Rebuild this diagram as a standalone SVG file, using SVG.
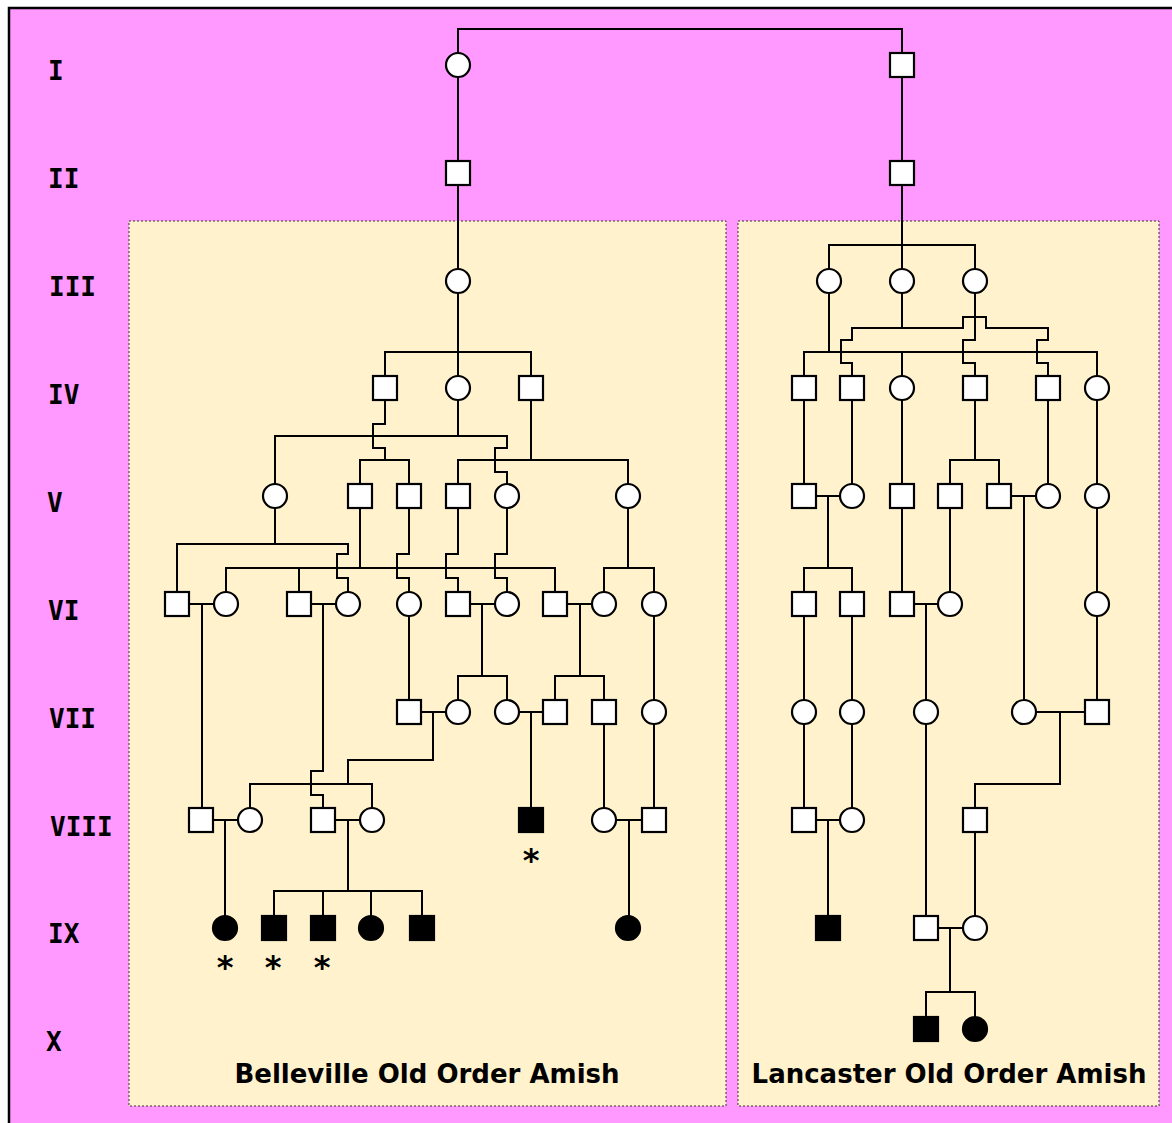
<svg xmlns="http://www.w3.org/2000/svg" width="1172" height="1123" viewBox="0 0 1172 1123">
  <style>
    .ln { fill: none; stroke: #000; stroke-width: 2; stroke-linejoin: miter; }
    .m, .f { fill: #fff; stroke: #000; stroke-width: 2.2; }
    .aff { fill: #000; stroke: #000; stroke-width: 2.2; }
    .gen { font-family: "DejaVu Sans Mono", "Liberation Mono", monospace; font-weight: bold; font-size: 26px; fill: #000; }
    .title { font-family: "DejaVu Sans", "Verdana", sans-serif; font-weight: bold; font-size: 26px; fill: #000; text-anchor: middle; }
    .star { font-family: "DejaVu Sans", sans-serif; font-weight: bold; font-size: 32px; fill: #000; text-anchor: middle; }
    .panel { fill: #FFF2CC; stroke: #333; stroke-width: 1; stroke-dasharray: 2 2; }
  </style>

  <!-- page background -->
  <rect x="0" y="0" width="1172" height="1123" fill="#fff"/>
  <rect x="9" y="8" width="1200" height="1200" fill="#FF99FF" stroke="#000" stroke-width="2.5"/>

  <!-- population panels -->
  <rect class="panel" x="129" y="221" width="597" height="885"/>
  <rect class="panel" x="738" y="221" width="421" height="885"/>

  <!-- generation numerals -->
  <g id="generations">
    <text class="gen" x="48" y="80">I</text>
    <text class="gen" x="48" y="188">II</text>
    <text class="gen" x="49" y="296">III</text>
    <text class="gen" x="48" y="404">IV</text>
    <text class="gen" x="47" y="512">V</text>
    <text class="gen" x="48" y="620">VI</text>
    <text class="gen" x="49" y="728">VII</text>
    <text class="gen" x="50" y="836">VIII</text>
    <text class="gen" x="48" y="943">IX</text>
    <text class="gen" x="46" y="1051">X</text>
  </g>

  <!-- connectors: sibships, marriages and descent lines -->
  <g id="connectors">
    <!-- I - III -->
    <path class="ln" d="M458,53 V29 H902 V53"/>
    <path class="ln" d="M458,77 V161 M902,77 V161"/>
    <path class="ln" d="M458,185 V269 M458,293 V376"/>
    <path class="ln" d="M385,376 V352 H531 V376"/>
    <path class="ln" d="M902,185 V269 M829,269 V245 H975 V269"/>

    <!-- Belleville: IV -> V -->
    <path class="ln" d="M385,400 V424 H373 V448 H385 V460"/>
    <path class="ln" d="M360,484 V460 H409 V484"/>
    <path class="ln" d="M458,400 V436"/>
    <path class="ln" d="M275,484 V436 H507 V448 H495 V472 H507 V484"/>
    <path class="ln" d="M531,400 V460"/>
    <path class="ln" d="M458,484 V460 H628 V484"/>

    <!-- Belleville: V -> VI -->
    <path class="ln" d="M275,508 V544"/>
    <path class="ln" d="M177,592 V544 H348 V554 H337 V578 H348 V592"/>
    <path class="ln" d="M360,508 V568"/>
    <path class="ln" d="M226,592 V568 H555 V592 M299,568 V592"/>
    <path class="ln" d="M409,508 V554 H397 V578 H409 V592"/>
    <path class="ln" d="M458,508 V554 H446 V578 H458 V592"/>
    <path class="ln" d="M507,508 V554 H495 V578 H507 V592"/>
    <path class="ln" d="M628,508 V568 M604,592 V568 H654 V592"/>

    <!-- Belleville: VI -> VII -->
    <path class="ln" d="M189,604 H214 M202,604 V808"/>
    <path class="ln" d="M311,604 H336 M323,604 V771 H311 V795 H323 V808"/>
    <path class="ln" d="M470,604 H495 M482,604 V676 M458,700 V676 H507 V700"/>
    <path class="ln" d="M567,604 H592 M580,604 V676 M555,700 V676 H604 V700"/>
    <path class="ln" d="M409,616 V700 M654,616 V700"/>

    <!-- Belleville: VII -> VIII -->
    <path class="ln" d="M421,712 H446 M433,712 V760 H348 V784"/>
    <path class="ln" d="M250,808 V784 H372 V808"/>
    <path class="ln" d="M519,712 H543 M531,712 V808"/>
    <path class="ln" d="M604,724 V808 M654,724 V808"/>

    <!-- Belleville: VIII -> IX -->
    <path class="ln" d="M213,820 H238 M225,820 V916"/>
    <path class="ln" d="M335,820 H360 M348,820 V891"/>
    <path class="ln" d="M274,916 V891 H422 V916 M323,891 V916 M371,891 V916"/>
    <path class="ln" d="M616,820 H642 M629,820 V916"/>

    <!-- Lancaster: III -> IV -->
    <path class="ln" d="M829,293 V352"/>
    <path class="ln" d="M804,376 V352 H1097 V376 M902,352 V376"/>
    <path class="ln" d="M902,293 V328"/>
    <path class="ln" d="M852,376 V363 H841 V340 H852 V328 H963 V317 H986 V328 H1048 V340 H1037 V363 H1048 V376"/>
    <path class="ln" d="M975,293 V340 H963 V363 H975 V376"/>

    <!-- Lancaster: IV -> V -->
    <path class="ln" d="M804,400 V484 M852,400 V484 M902,400 V484 M1048,400 V484 M1097,400 V484"/>
    <path class="ln" d="M975,400 V460 M950,484 V460 H999 V484"/>

    <!-- Lancaster: V -> VI -> VII -->
    <path class="ln" d="M816,496 H840 M828,496 V568 M804,592 V568 H852 V592"/>
    <path class="ln" d="M902,508 V592 M950,508 V592"/>
    <path class="ln" d="M1011,496 H1036 M1024,496 V700"/>
    <path class="ln" d="M1097,508 V592 M1097,616 V700"/>
    <path class="ln" d="M914,604 H938 M926,604 V700"/>
    <path class="ln" d="M804,616 V700 M852,616 V700"/>

    <!-- Lancaster: VII -> X -->
    <path class="ln" d="M1036,712 H1085 M1060,712 V784 H975 V808"/>
    <path class="ln" d="M804,724 V808 M852,724 V808 M926,724 V916"/>
    <path class="ln" d="M816,820 H840 M828,820 V916"/>
    <path class="ln" d="M975,832 V916"/>
    <path class="ln" d="M938,928 H963 M950,928 V992 M926,1017 V992 H975 V1017"/>
  </g>

  <!-- generation I -->
  <g id="I-1"><circle class="f" cx="458" cy="65" r="12"/></g>
  <g id="I-2"><rect class="m" x="890" y="53" width="24" height="24"/></g>

  <!-- generation II -->
  <g id="II-1"><rect class="m" x="446" y="161" width="24" height="24"/></g>
  <g id="II-2"><rect class="m" x="890" y="161" width="24" height="24"/></g>

  <!-- generation III -->
  <g id="III-1"><circle class="f" cx="458" cy="281" r="12"/></g>
  <g id="III-2"><circle class="f" cx="829" cy="281" r="12"/></g>
  <g id="III-3"><circle class="f" cx="902" cy="281" r="12"/></g>
  <g id="III-4"><circle class="f" cx="975" cy="281" r="12"/></g>

  <!-- generation IV -->
  <g id="IV-1"><rect class="m" x="373" y="376" width="24" height="24"/></g>
  <g id="IV-2"><circle class="f" cx="458" cy="388" r="12"/></g>
  <g id="IV-3"><rect class="m" x="519" y="376" width="24" height="24"/></g>
  <g id="IV-4"><rect class="m" x="792" y="376" width="24" height="24"/></g>
  <g id="IV-5"><rect class="m" x="840" y="376" width="24" height="24"/></g>
  <g id="IV-6"><circle class="f" cx="902" cy="388" r="12"/></g>
  <g id="IV-7"><rect class="m" x="963" y="376" width="24" height="24"/></g>
  <g id="IV-8"><rect class="m" x="1036" y="376" width="24" height="24"/></g>
  <g id="IV-9"><circle class="f" cx="1097" cy="388" r="12"/></g>

  <!-- generation V -->
  <g id="V-1"><circle class="f" cx="275" cy="496" r="12"/></g>
  <g id="V-2"><rect class="m" x="348" y="484" width="24" height="24"/></g>
  <g id="V-3"><rect class="m" x="397" y="484" width="24" height="24"/></g>
  <g id="V-4"><rect class="m" x="446" y="484" width="24" height="24"/></g>
  <g id="V-5"><circle class="f" cx="507" cy="496" r="12"/></g>
  <g id="V-6"><circle class="f" cx="628" cy="496" r="12"/></g>
  <g id="V-7"><rect class="m" x="792" y="484" width="24" height="24"/></g>
  <g id="V-8"><circle class="f" cx="852" cy="496" r="12"/></g>
  <g id="V-9"><rect class="m" x="890" y="484" width="24" height="24"/></g>
  <g id="V-10"><rect class="m" x="938" y="484" width="24" height="24"/></g>
  <g id="V-11"><rect class="m" x="987" y="484" width="24" height="24"/></g>
  <g id="V-12"><circle class="f" cx="1048" cy="496" r="12"/></g>
  <g id="V-13"><circle class="f" cx="1097" cy="496" r="12"/></g>

  <!-- generation VI -->
  <g id="VI-1"><rect class="m" x="165" y="592" width="24" height="24"/></g>
  <g id="VI-2"><circle class="f" cx="226" cy="604" r="12"/></g>
  <g id="VI-3"><rect class="m" x="287" y="592" width="24" height="24"/></g>
  <g id="VI-4"><circle class="f" cx="348" cy="604" r="12"/></g>
  <g id="VI-5"><circle class="f" cx="409" cy="604" r="12"/></g>
  <g id="VI-6"><rect class="m" x="446" y="592" width="24" height="24"/></g>
  <g id="VI-7"><circle class="f" cx="507" cy="604" r="12"/></g>
  <g id="VI-8"><rect class="m" x="543" y="592" width="24" height="24"/></g>
  <g id="VI-9"><circle class="f" cx="604" cy="604" r="12"/></g>
  <g id="VI-10"><circle class="f" cx="654" cy="604" r="12"/></g>
  <g id="VI-11"><rect class="m" x="792" y="592" width="24" height="24"/></g>
  <g id="VI-12"><rect class="m" x="840" y="592" width="24" height="24"/></g>
  <g id="VI-13"><rect class="m" x="890" y="592" width="24" height="24"/></g>
  <g id="VI-14"><circle class="f" cx="950" cy="604" r="12"/></g>
  <g id="VI-15"><circle class="f" cx="1097" cy="604" r="12"/></g>

  <!-- generation VII -->
  <g id="VII-1"><rect class="m" x="397" y="700" width="24" height="24"/></g>
  <g id="VII-2"><circle class="f" cx="458" cy="712" r="12"/></g>
  <g id="VII-3"><circle class="f" cx="507" cy="712" r="12"/></g>
  <g id="VII-4"><rect class="m" x="543" y="700" width="24" height="24"/></g>
  <g id="VII-5"><rect class="m" x="592" y="700" width="24" height="24"/></g>
  <g id="VII-6"><circle class="f" cx="654" cy="712" r="12"/></g>
  <g id="VII-7"><circle class="f" cx="804" cy="712" r="12"/></g>
  <g id="VII-8"><circle class="f" cx="852" cy="712" r="12"/></g>
  <g id="VII-9"><circle class="f" cx="926" cy="712" r="12"/></g>
  <g id="VII-10"><circle class="f" cx="1024" cy="712" r="12"/></g>
  <g id="VII-11"><rect class="m" x="1085" y="700" width="24" height="24"/></g>

  <!-- generation VIII -->
  <g id="VIII-1"><rect class="m" x="189" y="808" width="24" height="24"/></g>
  <g id="VIII-2"><circle class="f" cx="250" cy="820" r="12"/></g>
  <g id="VIII-3"><rect class="m" x="311" y="808" width="24" height="24"/></g>
  <g id="VIII-4"><circle class="f" cx="372" cy="820" r="12"/></g>
  <g id="VIII-5"><rect class="aff" x="519" y="808" width="24" height="24"/><text class="star" x="531" y="871">*</text></g>
  <g id="VIII-6"><circle class="f" cx="604" cy="820" r="12"/></g>
  <g id="VIII-7"><rect class="m" x="642" y="808" width="24" height="24"/></g>
  <g id="VIII-8"><rect class="m" x="792" y="808" width="24" height="24"/></g>
  <g id="VIII-9"><circle class="f" cx="852" cy="820" r="12"/></g>
  <g id="VIII-10"><rect class="m" x="963" y="808" width="24" height="24"/></g>

  <!-- generation IX -->
  <g id="IX-1"><circle class="aff" cx="225" cy="928" r="12"/><text class="star" x="225" y="978">*</text></g>
  <g id="IX-2"><rect class="aff" x="262" y="916" width="24" height="24"/><text class="star" x="273" y="978">*</text></g>
  <g id="IX-3"><rect class="aff" x="311" y="916" width="24" height="24"/><text class="star" x="322" y="978">*</text></g>
  <g id="IX-4"><circle class="aff" cx="371" cy="928" r="12"/></g>
  <g id="IX-5"><rect class="aff" x="410" y="916" width="24" height="24"/></g>
  <g id="IX-6"><circle class="aff" cx="628" cy="928" r="12"/></g>
  <g id="IX-7"><rect class="aff" x="816" y="916" width="24" height="24"/></g>
  <g id="IX-8"><rect class="m" x="914" y="916" width="24" height="24"/></g>
  <g id="IX-9"><circle class="f" cx="975" cy="928" r="12"/></g>

  <!-- generation X -->
  <g id="X-1"><rect class="aff" x="914" y="1017" width="24" height="24"/></g>
  <g id="X-2"><circle class="aff" cx="975" cy="1029" r="12"/></g>

  <!-- panel captions -->
  <text class="title" x="427" y="1083">Belleville Old Order Amish</text>
  <text class="title" x="949" y="1083">Lancaster Old Order Amish</text>
</svg>
